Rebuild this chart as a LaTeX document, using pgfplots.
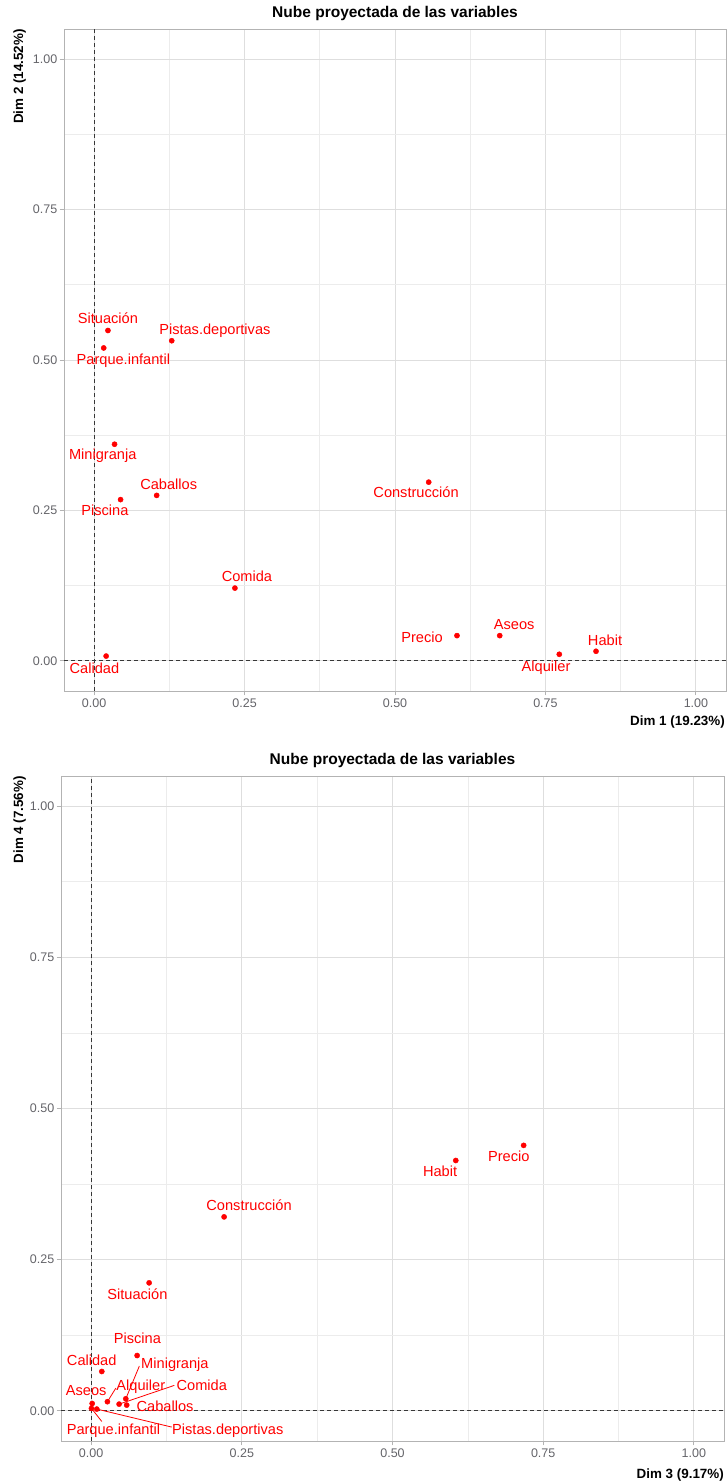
\documentclass[border=0pt]{standalone}
\usepackage{fontspec}
\setmainfont{Liberation Sans}
\usepackage{pgfplots}
\pgfplotsset{compat=1.18}
\definecolor{ptred}{RGB}{255,0,0}
\definecolor{gridmaj}{RGB}{222,222,222}
\definecolor{gridmin}{RGB}{236,236,236}
\definecolor{framec}{RGB}{179,179,179}
\definecolor{ticklab}{RGB}{100,100,105}
\definecolor{dashc}{RGB}{55,55,55}
\pgfplotsset{
  pca/.style={
    scale only axis,
    xmin=-0.05, xmax=1.05, ymin=-0.05, ymax=1.05,
    xtick={0,0.25,0.5,0.75,1}, ytick={0,0.25,0.5,0.75,1},
    minor xtick={0.125,0.375,0.625,0.875},
    minor ytick={0.125,0.375,0.625,0.875},
    grid=both,
    major grid style={gridmaj, line width=0.9pt},
    minor grid style={gridmin, line width=0.6pt},
    axis line style={framec, line width=0.9pt},
    tick align=outside, xtick pos=lower, ytick pos=left,
    major tick length=4.5pt, minor tick length=0pt,
    tick style={framec, line width=0.9pt},
    /pgf/number format/.cd, fixed, fixed zerofill, precision=2, assume math mode=true,
    /pgfplots/.cd,
    tick label style={font=\fontsize{12.5}{14}\selectfont, text=ticklab, inner sep=2pt},
    xticklabel style={yshift=-1.5pt},
    clip=false,
  },
}
\tikzset{
  lab/.style={font=\fontsize{14.6}{17}\selectfont, text=ptred, inner sep=0pt, text height=0.72em, text depth=0pt, anchor=center},
}
\begin{document}
\begin{tikzpicture}
\useasboundingbox (0,0) rectangle (727pt,1483pt);
% ---------------- top panel ----------------
\begin{axis}[pca, name=ax1, at={(64pt,792pt)}, anchor=south west, width=662pt, height=662pt]
\addplot[dashc, line width=1pt, dash pattern=on 4pt off 3pt] coordinates {(-0.05,0) (1.05,0)};
\addplot[dashc, line width=1pt, dash pattern=on 4pt off 3pt] coordinates {(0,-0.05) (0,1.05)};
\addplot[only marks, mark=*, mark size=2.6pt, ptred] table {
x y
0.023 0.549
0.016 0.520
0.129 0.532
0.034 0.360
0.104 0.275
0.044 0.268
0.556 0.297
0.603 0.042
0.674 0.042
0.773 0.011
0.834 0.016
0.234 0.121
0.020 0.008
};
\node[lab] at (axis cs:0.023,0.566) {Situación};
\node[lab] at (axis cs:0.0486,0.499) {Parque.infantil};
\node[lab] at (axis cs:0.2007,0.548) {Pistas.deportivas};
\node[lab] at (axis cs:0.0144,0.340) {Minigranja};
\node[lab] at (axis cs:0.124,0.291) {Caballos};
\node[lab] at (axis cs:0.018,0.248) {Piscina};
\node[lab] at (axis cs:0.535,0.277) {Construcción};
\node[lab] at (axis cs:0.545,0.037) {Precio};
\node[lab] at (axis cs:0.698,0.0585) {Aseos};
\node[lab] at (axis cs:0.751,-0.0116) {Alquiler};
\node[lab] at (axis cs:0.849,0.032) {Habit};
\node[lab] at (axis cs:0.254,0.138) {Comida};
\node[lab] at (axis cs:0.0005,-0.015) {Calidad};
\end{axis}
\node[font=\fontsize{15.5}{18}\selectfont\bfseries] at ([yshift=15pt]ax1.north) {Nube proyectada de las variables};
\node[font=\fontsize{13.4}{16}\selectfont\bfseries, anchor=base east, inner sep=0pt] at ([yshift=-35pt, xshift=-1pt]ax1.south east) {Dim 1 (19.23\%)};
\node[font=\fontsize{13.4}{16}\selectfont\bfseries, anchor=base east, inner sep=0pt, rotate=90] at ([xshift=-41pt]ax1.north west) {Dim 2 (14.52\%)};
% ---------------- bottom panel ----------------
\begin{axis}[pca, name=ax2, at={(61pt,42pt)}, anchor=south west, width=663pt, height=665pt]
\addplot[dashc, line width=1pt, dash pattern=on 4pt off 3pt] coordinates {(-0.05,0) (1.05,0)};
\addplot[dashc, line width=1pt, dash pattern=on 4pt off 3pt] coordinates {(0,-0.05) (0,1.05)};
% repel segments
\addplot[ptred, line width=0.8pt] coordinates {(0.080,0.074) (0.0575,0.0198)};
\addplot[ptred, line width=0.8pt] coordinates {(0.041,0.0375) (0.027,0.015)};
\addplot[ptred, line width=0.8pt] coordinates {(0.138,0.042) (0.0464,0.011)};
\addplot[ptred, line width=0.8pt] coordinates {(0.0177,-0.0177) (0.0005,0.004)};
\addplot[ptred, line width=0.8pt] coordinates {(0.1338,-0.027) (0.0094,0.0028)};
\addplot[only marks, mark=*, mark size=2.6pt, ptred] table {
x y
0.7176 0.439
0.605 0.414
0.2206 0.3207
0.0962 0.2116
0.0763 0.0914
0.0177 0.065
0.0575 0.0198
0.0017 0.012
0.027 0.015
0.0464 0.011
0.059 0.0094
0.0005 0.004
0.0094 0.0028
};
\node[lab] at (axis cs:0.693,0.419) {Precio};
\node[lab] at (axis cs:0.579,0.394) {Habit};
\node[lab] at (axis cs:0.262,0.337) {Construcción};
\node[lab] at (axis cs:0.0768,0.1906) {Situación};
\node[lab] at (axis cs:0.0768,0.1178) {Piscina};
\node[lab] at (axis cs:0.001,0.0815) {Calidad};
\node[lab] at (axis cs:0.139,0.076) {Minigranja};
\node[lab] at (axis cs:-0.0083,0.031) {Aseos};
\node[lab] at (axis cs:0.0824,0.039) {Alquiler};
\node[lab] at (axis cs:0.1836,0.039) {Comida};
\node[lab] at (axis cs:0.1227,0.0045) {Caballos};
\node[lab] at (axis cs:0.037,-0.0325) {Parque.infantil};
\node[lab] at (axis cs:0.2267,-0.0325) {Pistas.deportivas};
\end{axis}
\node[font=\fontsize{15.5}{18}\selectfont\bfseries] at ([yshift=16pt]ax2.north) {Nube proyectada de las variables};
\node[font=\fontsize{13.4}{16}\selectfont\bfseries, anchor=base east, inner sep=0pt] at ([yshift=-37pt, xshift=0pt]ax2.south east) {Dim 3 (9.17\%)};
\node[font=\fontsize{13.4}{16}\selectfont\bfseries, anchor=base east, inner sep=0pt, rotate=90] at ([xshift=-38pt]ax2.north west) {Dim 4 (7.56\%)};
\end{tikzpicture}
\end{document}
